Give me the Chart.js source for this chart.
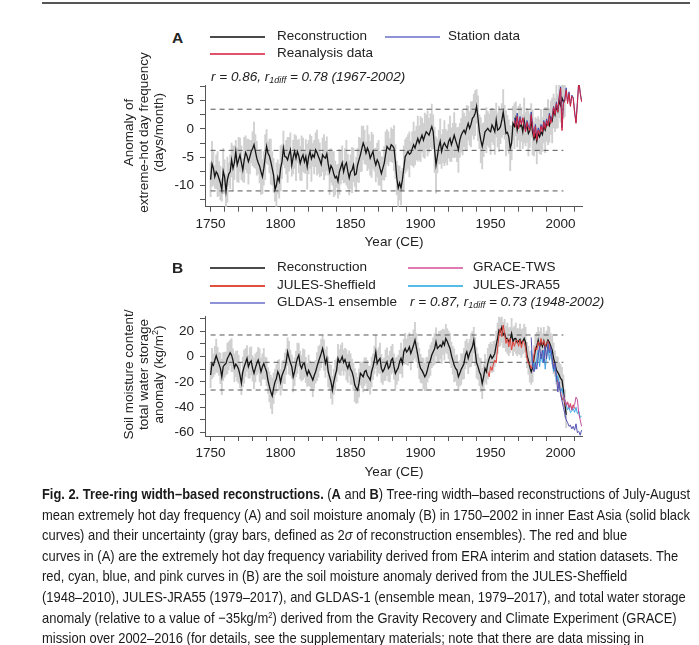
<!DOCTYPE html>
<html>
<head>
<meta charset="utf-8">
<title>Fig. 2</title>
<script src="https://cdn.jsdelivr.net/npm/chart.js@4.4.0/dist/chart.umd.min.js"></script>
<style>
  body { margin: 0; width: 699px; height: 645px; overflow: hidden; background: #fff;
         font-family: "Liberation Sans", Arial, sans-serif; color: #222; position: relative; }
  .t { position: absolute; white-space: nowrap; font-size: 13.5px; line-height: 16px; }
  .it { font-style: italic; }
  .it sub { font-size: 9px; vertical-align: -2px; line-height: 0; }
  .ln { position: absolute; height: 1.5px; width: 55px; }
  .panel { position: absolute; font-weight: bold; font-size: 15.5px; line-height: 16px; }
  .ytitle { position: absolute; width: 240px; height: 45px; line-height: 15px; font-size: 13.5px;
            text-align: center; transform: rotate(-90deg); }
  .xtitle { position: absolute; left: 294px; width: 200px; text-align: center; font-size: 13.5px; line-height: 16px; }
  sup { font-size: 9px; line-height: 0; vertical-align: 5px; }
  canvas { position: absolute; left: 0; }
  #rule { position: absolute; left: 42px; top: 2px; width: 648px; height: 2px; background: #555; }
  #caption { position: absolute; left: 42px; top: 484px; font-family: "Liberation Sans Narrow", "Liberation Sans", sans-serif;
             font-size: 15px; color: #1a1a1a; }
  #caption div { height: 20.6px; line-height: 20.6px; white-space: nowrap; width: max-content; transform-origin: left center; }
</style>
</head>
<body>
<div id="rule"></div>

<canvas id="chartA" width="699" height="200" style="top:60px"></canvas>
<canvas id="chartB" width="699" height="200" style="top:290px"></canvas>

<!-- panel A labels -->
<div class="panel" style="left:172px;top:30px">A</div>
<div class="ln" style="left:210px;top:36px;background:#4a4a4a"></div>
<div class="t" style="left:277px;top:28px">Reconstruction</div>
<div class="ln" style="left:385px;top:36px;background:#8e92d6"></div>
<div class="t" style="left:448px;top:28px">Station data</div>
<div class="ln" style="left:210px;top:53px;background:#e0536a"></div>
<div class="t" style="left:277px;top:45px">Reanalysis data</div>
<div class="t it" style="left:211px;top:69px">r = 0.86, r<sub>1diff</sub> = 0.78 (1967-2002)</div>
<div class="ytitle" style="left:23px;top:110px">Anomaly of<br>extreme-hot day frequency<br>(days/month)</div>
<div class="xtitle" style="top:234px">Year (CE)</div>

<!-- panel B labels -->
<div class="panel" style="left:172px;top:260px">B</div>
<div class="ln" style="left:210px;top:267px;background:#4a4a4a"></div>
<div class="t" style="left:277px;top:259px">Reconstruction</div>
<div class="ln" style="left:408px;top:267px;background:#e07ab0"></div>
<div class="t" style="left:473px;top:259px">GRACE-TWS</div>
<div class="ln" style="left:210px;top:285px;background:#e0503f"></div>
<div class="t" style="left:277px;top:277px">JULES-Sheffield</div>
<div class="ln" style="left:408px;top:285px;background:#55bbe8"></div>
<div class="t" style="left:473px;top:277px">JULES-JRA55</div>
<div class="ln" style="left:210px;top:302px;background:#8e92d6"></div>
<div class="t" style="left:277px;top:294px">GLDAS-1 ensemble</div>
<div class="t it" style="left:410px;top:294px">r = 0.87, r<sub>1diff</sub> = 0.73 (1948-2002)</div>
<div class="ytitle" style="left:23px;top:352px">Soil moisture content/<br>total water storage<br>anomaly (kg/m<sup>2</sup>)</div>
<div class="xtitle" style="top:464px">Year (CE)</div>

<div id="caption">
  <div><b>Fig. 2. Tree-ring width–based reconstructions.</b> (<b>A</b> and <b>B</b>) Tree-ring width–based reconstructions of July-August</div>
  <div>mean extremely hot day frequency (A) and soil moisture anomaly (B) in 1750–2002 in inner East Asia (solid black</div>
  <div>curves) and their uncertainty (gray bars, defined as 2<i>σ</i> of reconstruction ensembles). The red and blue</div>
  <div>curves in (A) are the extremely hot day frequency variability derived from ERA interim and station datasets. The</div>
  <div>red, cyan, blue, and pink curves in (B) are the soil moisture anomaly derived from the JULES-Sheffield</div>
  <div>(1948–2010), JULES-JRA55 (1979–2017), and GLDAS-1 (ensemble mean, 1979–2017), and total water storage</div>
  <div>anomaly (relative to a value of −35kg/m<sup>2</sup>) derived from the Gravity Recovery and Climate Experiment (GRACE)</div>
  <div>mission over 2002–2016 (for details, see the supplementary materials; note that there are data missing in</div>
</div>

<script>
// ---- data: panel A (extreme-hot day frequency anomaly, days/month) ----
const startA = 1750;
const reconA = [
  -9.0,-6.2,-7.0,-8.5,-7.6,-8.0,-8.8,-9.6,-10.8,-7.5,
  -8.5,-11.1,-9.0,-8.0,-7.6,-5.5,-7.0,-6.0,-4.0,-6.4,
  -5.5,-4.6,-6.0,-7.3,-5.5,-4.2,-4.8,-5.8,-5.0,-4.0,
  -3.5,-2.8,-4.0,-5.2,-6.0,-6.6,-7.6,-8.5,-7.0,-5.0,
  -3.1,-4.3,-4.8,-5.8,-7.0,-8.2,-10.8,-10.0,-8.5,-9.3,
  -7.0,-5.8,-3.4,-4.9,-5.0,-5.5,-4.5,-3.7,-6.4,-5.0,
  -4.0,-5.2,-4.0,-4.8,-6.1,-5.2,-4.6,-5.8,-4.9,-6.7,
  -5.0,-4.0,-5.3,-4.6,-5.0,-3.7,-4.2,-4.9,-5.5,-6.3,
  -4.6,-5.0,-5.2,-4.4,-6.2,-7.6,-6.5,-7.0,-8.0,-8.7,
  -8.4,-9.3,-7.6,-6.8,-6.0,-7.6,-6.5,-6.0,-7.5,-8.7,
  -7.6,-7.3,-6.4,-8.2,-8.0,-6.4,-5.5,-4.6,-3.5,-2.5,
  -3.2,-4.3,-3.4,-4.0,-5.2,-4.6,-4.0,-5.5,-6.4,-5.5,
  -6.0,-7.0,-7.9,-7.0,-6.1,-4.5,-3.1,-3.5,-3.7,-2.8,
  -3.0,-3.4,-5.8,-8.7,-10.5,-9.6,-10.5,-9.0,-7.0,-4.9,
  -4.5,-4.0,-4.5,-4.3,-3.5,-2.8,-3.4,-2.5,-1.7,-2.5,
  -1.8,-1.1,-2.0,-1.2,-0.5,-0.8,-1.1,-0.3,0.4,-0.5,
  -3.7,-6.4,-4.8,-3.2,-2.2,-4.0,-3.0,-2.5,-3.0,-3.4,
  -2.2,-1.7,-2.8,-2.0,-1.1,-2.0,-2.8,-3.7,-2.0,-1.1,
  -0.6,-0.2,-0.8,0.2,1.0,0.1,0.8,1.9,2.2,2.8,
  4.0,1.9,-0.5,-2.0,-3.1,-1.9,-0.5,-0.2,0.1,-0.3,
  -0.5,0.7,0.2,-0.5,1.6,-0.2,0.0,0.4,1.5,3.0,
  1.2,-0.8,-0.6,-1.4,-3.4,-2.5,1.0,0.5,1.8,-0.2,
  1.0,0.4,0.8,-0.5,1.5,0.0,0.6,-0.8,-0.3,1.5,
  -0.6,-1.8,-1.0,-2.2,-0.8,-1.4,-0.5,-1.0,0.5,-0.2,
  0.8,1.2,0.6,2.0,1.5,3.2,2.5,4.0,3.2,5.0,
  4.2,5.5,4.8,5.2
];
// half width of the gray uncertainty bars
const errA = [
  3,4,3,2,3,4,3,3,2,4, 3,3,4,2,3,3,4,3,2,3, 4,3,3,2,4,3,3,4,3,2,
  3,4,3,3,2,3,4,3,3,4, 3,2,3,4,3,3,2,4,3,3, 4,3,3,2,3,4,3,3,2,3,
  3,4,2,3,3,4,3,2,3,4, 3,3,4,2,3,3,4,3,3,2, 3,4,3,3,2,4,3,3,4,3,
  2,3,4,3,3,2,3,4,3,3, 3,4,3,2,3,3,4,3,4,3, 3,2,4,3,3,4,3,2,3,3,
  4,3,3,2,3,4,3,3,2,3, 3,4,3,3,4,3,3,2,4,3, 3,3,4,2,3,4,3,3,4,3,
  4,3,3,4,3,4,3,3,4,3, 4,5,3,3,4,3,3,4,3,3, 3,4,3,3,4,3,3,4,3,3,
  4,3,3,4,3,3,4,3,4,4, 3,4,3,4,4,3,3,4,3,3, 4,3,3,4,3,3,4,3,3,4,
  3,4,3,3,4,3,3,4,3,3, 3,4,3,3,4,3,3,4,3,3, 4,3,3,4,3,3,4,3,3,4,
  3,4,3,3,4,3,3,4,3,3, 3,4,3,3
];
const stationStart = 1967;
const stationA = [
  2.0,0.8,2.8,0.5,2.2,1.0,1.8,1.0,-0.2,1.5,
  0.5,0.2,3.0,0.6,-1.0,0.8,-1.5,0.2,-0.6,0.8,
  -0.2,1.5,0.4,1.8,0.8,2.8,1.4,2.3,4.0,2.8,
  4.8,3.3,5.8,7.5,0.2,4.8,5.4,7.3,4.8,6.6,
  4.2,6.0,5.6,3.2,1.2,4.8,8.7,6.5,5.0
];
const reanalysisStart = 1967;
const reanalysisA = [
  1.5,0.3,2.2,0.0,1.8,0.8,2.0,0.5,-0.5,1.2,
  0.2,-0.3,2.5,0.2,-1.5,0.5,-2.0,-0.2,-1.0,0.5,
  -0.5,1.2,0.0,1.5,0.5,2.5,1.0,2.0,3.8,2.5,
  4.5,3.0,5.5,7.2,-0.3,4.5,5.0,6.9,4.5,6.3,
  4.0,5.8,5.4,2.8,1.0,4.5,8.4,6.3,4.8
];
const dashA = [3.5, -3.8, -11];

// ---- data: panel B (soil moisture / TWS anomaly, kg/m2) ----
const startB = 1750;
const reconB = [
  -14.6,-5.5,-7.0,-3.0,0.6,-2.8,-6.0,-9.4,-16.0,-8.0,
  -6.5,-5.5,-1.5,0.5,2.9,1.0,-3.0,-8.9,-6.0,-7.5,
  -10.0,-14.6,-21.0,-12.0,-8.0,-4.7,-1.5,-8.0,-5.0,-3.5,
  -9.4,-13.3,-9.0,-5.5,-2.8,-7.0,-12.0,-8.0,-5.5,-9.0,
  -12.0,-19.0,-23.8,-27.8,-31.0,-25.0,-20.0,-17.3,-12.0,-14.5,
  -20.4,-15.0,-12.0,-9.4,-4.2,3.7,-1.0,-5.0,-8.0,-16.0,
  -12.0,-6.0,-1.5,1.1,-6.8,-9.4,-6.0,-5.5,-10.7,-14.6,
  -11.0,-13.5,-16.0,-18.6,-15.0,-12.0,-8.0,-4.2,-1.0,2.4,
  6.3,1.0,-5.5,-1.5,-12.0,-16.0,-20.0,-26.5,-20.0,-15.0,
  -10.7,-1.5,-4.5,-3.0,-0.2,-4.7,-2.5,-6.5,-9.4,-5.5,
  -10.0,-12.0,-16.0,-22.5,-25.0,-26.5,-21.0,-13.3,-14.6,-16.0,
  -12.0,-11.0,-15.0,-16.5,-18.6,-12.0,-8.0,-2.8,3.7,-5.5,
  -3.0,-1.5,-9.4,-12.0,-10.0,-6.8,-4.2,-9.4,-8.0,-3.0,
  -1.5,-8.0,-13.3,-11.0,-9.0,-4.2,-1.5,-5.5,3.7,6.3,
  3.5,5.0,7.6,2.4,5.5,9.0,12.9,7.0,1.1,-5.5,
  -9.4,-11.0,-13.3,-16.0,-14.0,-10.0,-5.5,-3.0,1.1,3.7,
  6.0,11.6,6.3,7.5,9.0,7.6,11.6,9.0,14.2,12.0,
  9.0,6.3,1.1,-3.0,-7.0,-9.4,-10.7,-16.0,-13.3,-10.0,
  -8.0,-5.5,1.1,3.7,-1.5,2.5,5.0,7.6,12.9,4.0,
  -5.0,-8.0,-12.0,-14.6,-21.3,-16.0,-9.4,-12.0,-5.5,-1.5,
  1.1,-1.5,0.0,2.4,9.0,14.2,20.8,19.5,23.0,16.9,
  18.2,14.0,14.2,11.6,13.0,18.0,11.6,14.0,14.2,11.0,
  12.0,13.5,10.3,12.0,14.2,11.0,1.1,-3.0,-8.2,-12.1,
  -9.0,-1.5,5.0,8.0,12.9,7.5,11.6,8.0,12.0,6.0,
  10.0,12.9,11.0,8.0,5.0,-1.5,-5.5,-10.8,-12.5,-14.7,
  -17.3,-18.6,-26.5,-37.0,-46.0
];
const errB = [
  10,12,9,11,13,10,9,12,14,11, 10,9,12,11,10,13,9,11,10,12, 11,10,9,12,13,11,10,9,12,11,
  10,12,11,9,10,13,11,10,12,9, 11,10,12,13,14,12,10,11,9,12, 10,11,9,12,10,11,13,10,9,12,
  11,10,12,9,11,10,12,11,10,9, 12,10,11,13,10,9,11,12,10,11, 10,12,11,9,12,10,13,11,10,12,
  9,11,10,12,11,10,9,12,11,10, 12,10,11,13,12,10,11,9,10,12, 11,10,12,9,11,12,10,11,13,10,
  10,12,11,10,9,12,11,10,12,11, 11,10,12,11,10,9,12,11,10,12, 10,12,11,13,10,12,14,11,10,12,
  11,10,12,11,13,10,11,12,10,11, 12,11,10,12,11,13,10,12,11,10, 11,12,10,11,13,10,12,11,10,12,
  10,12,11,10,12,11,13,12,10,11, 12,10,11,13,12,10,11,10,12,11, 10,11,12,10,11,12,13,11,12,10,
  11,10,12,11,10,12,11,10,12,11, 10,12,11,10,11,12,10,11,12,10, 11,10,12,11,10,12,11,10,11,12,
  10,11,12,10,11,12,10,11,12,10, 11,10,12,11,10
];
const sheffieldStart = 1948;
const sheffieldB = [
  -12.1,-16,-8,-11,-6,-2.8,-5,6.3,16.9,22.1,
  15.6,24.7,18.2,10.3,14,7.6,14.2,5,11.6,8,
  12.5,12.9,8,13,7,12,11,6.3,-1.5,-5.5,
  -6,-9.5,-6,1.1,7.6,5,11.6,8,14.2,9,
  12.5,7,11,12,8,2.4,-2.8,-8.2,-12,-16,
  -20,-24,-27.8,-34.4,-31.8,-37,-39.6,-35.7,-40.9,-37,-42.2,-38,-41
];
const jra55Start = 1979;
const jra55B = [
  5,-8,-5,-10,-2,5,-8,2,-5,5,
  -10,0,8,-3,5,-5,-12,-8,-20,-15,
  -22,-28,-25,-32,-35,-38,-42,-40,-44,-43,
  -41,-44,-40,-45,-43,-48,-47
];
const gldasStart = 1979;
const gldasB = [
  15,-8,-12,-5,-10,0,8,-2,5,-5,
  8,-2,10,3,8,-2,-10,-5,-15,-28,
  -20,-30,-35,-40,-45,-50,-52,-55,-54,-57,
  -55,-58,-53,-60,-59,-62,-58
];
const graceStart = 2002;
const graceB = [-30,-34,-38,-36,-40,-38,-42,-40,-38,-32,-34,-45,-50,-55];
const dashB = [16.9, -4.6, -26.4];

// ---- axes ----
const dashYears = [1750, 2002];
const xTicks = [1750,1760,1770,1780,1790,1800,1810,1820,1830,1840,1850,1860,1870,
                1880,1890,1900,1910,1920,1930,1940,1950,1960,1970,1980,1990,2000,2010];
const xLabelStep = 50;
const yTicksA = [-12.5,-10,-7.5,-5,-2.5,0,2.5,5,7.5];
const yLabelStepA = 5;
const yTicksB = [-60,-50,-40,-30,-20,-10,0,10,20,30];
const yLabelStepB = 20;

const axisColor = "#555";
const tickFont = { family: '"Liberation Sans", Arial, sans-serif', size: 13.5 };

const series = (start, values) => values.map((v, i) => ({ x: start + i, y: v }));

const createPanel = (canvasId, p) => {
  const ctx = document.getElementById(canvasId).getContext("2d");
  const datasets = [
    {
      type: "bar",
      data: p.recon.map((v, i) => ({ x: p.start + i, y: [v - p.err[i], v + p.err[i]] })),
      backgroundColor: "#d0d0d0",
      borderWidth: 0,
      barThickness: 1.2,
      grouped: false,
      order: 20,
    },
  ];
  p.dashes.forEach((v) => {
    datasets.push({
      data: [{ x: dashYears[0], y: v }, { x: dashYears[1], y: v }],
      borderColor: axisColor,
      borderWidth: 1,
      borderDash: [5, 4],
      order: 15,
    });
  });
  datasets.push({
    data: series(p.start, p.recon),
    borderColor: "#151515",
    borderWidth: 1.3,
    order: 10,
  });
  p.extra.forEach((s, k) => {
    datasets.push({
      data: series(s.start, s.values),
      borderColor: s.color,
      borderWidth: 1,
      order: 9 - k,
    });
  });

  new Chart(ctx, {
    type: "line",
    data: { datasets },
    options: {
      responsive: false,
      animation: false,
      events: [],
      layout: { padding: { top: p.padTop, right: 116.7, left: 0, bottom: 0 } },
      elements: { point: { radius: 0 }, line: { tension: 0, fill: false } },
      plugins: { legend: { display: false }, tooltip: { enabled: false } },
      scales: {
        x: {
          type: "linear",
          bounds: "data",
          min: 1746,
          max: 2015.5,
          offset: false,
          afterBuildTicks: (axis) => { axis.ticks = xTicks.map((v) => ({ value: v })); },
          afterFit: (scale) => { scale.height = p.xHeight; },
          ticks: {
            callback: (v) => (v % xLabelStep === 0 ? String(v) : ""),
            autoSkip: false,
            maxRotation: 0,
            padding: 4,
            color: "#222",
            font: tickFont,
          },
          grid: { drawOnChartArea: false, tickLength: 5, color: axisColor, offset: false },
          border: { display: true, color: axisColor, width: 1 },
        },
        y: {
          type: "linear",
          bounds: "data",
          min: p.yMin,
          max: p.yMax,
          afterBuildTicks: (axis) => { axis.ticks = p.yTicks.map((v) => ({ value: v })); },
          afterFit: (scale) => { scale.width = 205; },
          ticks: {
            callback: (v) => (v % p.yStep === 0 ? String(v) : ""),
            autoSkip: false,
            padding: 6,
            color: "#222",
            font: tickFont,
          },
          grid: { drawOnChartArea: false, tickLength: 5, color: axisColor },
          border: { display: true, color: axisColor, width: 1 },
        },
      },
    },
  });
};

createPanel("chartA", {
  start: startA, recon: reconA, err: errA, dashes: dashA,
  yMin: -13.8, yMax: 7.8, yTicks: yTicksA, yStep: yLabelStepA,
  padTop: 25, xHeight: 53.3,
  extra: [
    { start: stationStart, values: stationA, color: "#3f4aa3" },
    { start: reanalysisStart, values: reanalysisA, color: "#d3233f" },
  ],
});

createPanel("chartB", {
  start: startB, recon: reconB, err: errB, dashes: dashB,
  yMin: -62.6, yMax: 31.3, yTicks: yTicksB, yStep: yLabelStepB,
  padTop: 26.7, xHeight: 54,
  extra: [
    { start: sheffieldStart, values: sheffieldB, color: "#e0403a" },
    { start: jra55Start, values: jra55B, color: "#3ea6e3" },
    { start: gldasStart, values: gldasB, color: "#5151b2" },
    { start: graceStart, values: graceB, color: "#c2509e" },
  ],
});

// squeeze the caption horizontally (condensed look); same factor for every line,
// taken from the second line which runs the full width
const lines = document.querySelectorAll("#caption div");
const squeeze = 648 / lines[1].getBoundingClientRect().width;
lines.forEach((d) => {
  const w = d.getBoundingClientRect().width;
  const s = Math.min(squeeze, 648 / w);
  d.style.transform = "scaleX(" + s + ")";
});
</script>
</body>
</html>
